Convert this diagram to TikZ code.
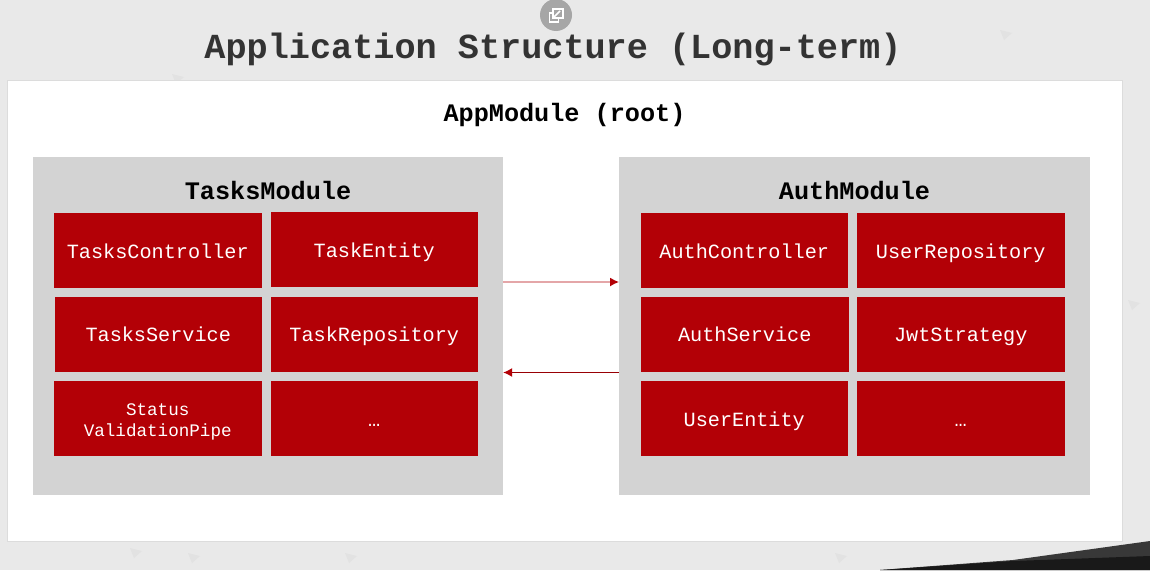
\documentclass[tikz,border=0pt]{standalone}
\usepackage{fontspec}
\usetikzlibrary{arrows.meta}
\setmainfont{Liberation Mono}
\definecolor{crimson}{HTML}{B30006}
\definecolor{modulegray}{HTML}{D3D3D3}
\definecolor{slidegray}{HTML}{E9E9E9}
\definecolor{speckgray}{HTML}{E2E2E2}
\definecolor{framegray}{HTML}{DCDCDC}
\definecolor{titlegray}{HTML}{333333}
\tikzset{
  modulebox/.style = {fill = modulegray, draw = none, inner sep = 0, minimum width = 470.5pt, minimum height = 338pt},
  pipebox/.style = {fill = crimson, draw = none, text = white, inner sep = 0, align = center, minimum width = 207.5pt, minimum height = 75pt, font = \fontsize{17.6}{21}\selectfont},
  classbox/.style = {pipebox, font = \fontsize{20.2}{24}\selectfont, text height = 18pt, text depth = 3pt},
  modulelabel/.style = {font = \fontsize{25.2}{30}\selectfont\bfseries},
  linkline/.style = {-{Latex[length = 9pt, width = 9pt, color = crimson]}}
}
\begin{document}
\begin{tikzpicture}[x = 1pt, y = -1pt]
\useasboundingbox (0,0) rectangle (1150,570);
% background
\fill [slidegray] (0,0) rectangle (1150,570);
\foreach \x/\y in {188/553, 130/548, 835/553, 1128/300, 172/74, 1000/30, 345/553} \fill [speckgray] (\x,\y) -- (\x+12,\y+3) -- (\x+4,\y+10) -- cycle;
\fill [black!78] (880,570) -- (1013,560) -- (1150,541) -- (1150,570) -- cycle;
\fill [black!90] (880,570) -- (1013,561) -- (1150,556) -- (1150,570) -- cycle;
% title
\node [text = titlegray, font = \fontsize{35.2}{42}\selectfont\bfseries] (title) at (553,49) {Application Structure (Long-term)};
\node [circle, fill = black!35, inner sep = 0, minimum size = 32pt] (popout) at (556,15) {};
\draw [white, line width = 1.8pt] (549.5,13) rectangle (558.5,22);
\fill [black!35] (552,8) rectangle (564,19);
\draw [white, line width = 1.8pt] (553,9) rectangle (563,18);
\draw [white, line width = 1.6pt] (554,17) -- (560,11);
% root
\node [fill = white, draw = framegray, inner sep = 0, minimum width = 1115pt, minimum height = 461pt] (root) at (564.5,311) {};
\node [font = \fontsize{25.2}{30}\selectfont\bfseries] (rootlabel) at (564.5,115) {AppModule (root)};
% modules
\node [modulebox] (tasks) at (267.75,326) {};
\node [modulebox] (auth) at (854.5,326) {};
\node [modulelabel] (taskslabel) at (268,190) {TasksModule};
\node [modulelabel] (authlabel) at (854.5,190) {AuthModule};
% tasks classes
\node [classbox] (tasksctrl) at (157.75,250.5) {TasksController};
\node [classbox] (taskent) at (374.25,249.5) {TaskEntity};
\node [classbox] (taskssrv) at (158.25,334) {TasksService};
\node [classbox] (taskrepo) at (374.25,334) {TaskRepository};
\node [pipebox] (statuspipe) at (157.75,418.5) {\rule{0pt}{18pt}Status\\ValidationPipe};
\node [classbox] (tasksmore) at (374.25,418.5) {…};
% auth classes
\node [classbox] (authctrl) at (744.25,250.5) {AuthController};
\node [classbox] (userrepo) at (960.75,250.5) {UserRepository};
\node [classbox] (authsrv) at (744.75,334) {AuthService};
\node [classbox] (jwt) at (960.75,334) {JwtStrategy};
\node [classbox] (userent) at (744.25,418.5) {UserEntity};
\node [classbox] (authmore) at (960.75,418.5) {…};
% links
\draw [linkline, draw = crimson!35, line width = 1.5pt] ([yshift = 44pt]tasks.east) -- ([yshift = 44pt]auth.west);
\draw [linkline, draw = crimson!85!black, line width = 1.2pt] ([yshift = -46.5pt]auth.west) -- ([yshift = -46.5pt]tasks.east);
\end{tikzpicture}
\end{document}
